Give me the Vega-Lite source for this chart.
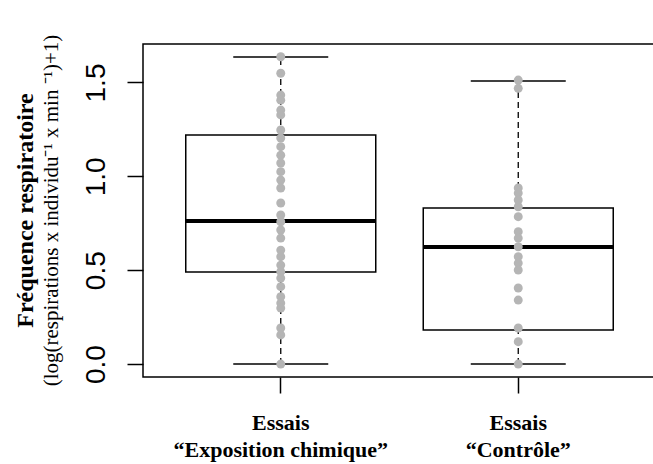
{
  "$schema": "https://vega.github.io/schema/vega-lite/v6.json",
  "autosize": {"type": "none"},
  "padding": {"left": 143, "top": 44, "right": 0, "bottom": 87},
  "width": 513,
  "height": 333,
  "background": "white",
  "config": {
    "view": {"stroke": "black", "strokeWidth": 1.5},
    "axis": {"grid": false, "domain": false, "tickColor": "black", "tickWidth": 1.5, "tickSize": 16, "labelColor": "black", "titleColor": "black"}
  },
  "title": {
    "text": "Fréquence respiratoire",
    "subtitle": "(log(respirations x individu⁻¹ x min ⁻¹)+1)",
    "orient": "left",
    "anchor": "middle",
    "font": "Liberation Serif",
    "fontSize": 24,
    "fontWeight": "bold",
    "color": "black",
    "subtitleFont": "Liberation Serif",
    "subtitleFontSize": 21,
    "subtitleFontWeight": "normal",
    "subtitleColor": "black",
    "subtitlePadding": 3,
    "offset": 20
  },
  "datasets": {
    "stats": [
      {"group": "Exposition chimique", "lower": 0, "q1": 0.49, "median": 0.762, "q3": 1.22, "upper": 1.636},
      {"group": "Contrôle", "lower": 0, "q1": 0.181, "median": 0.623, "q3": 0.831, "upper": 1.508}
    ],
    "points": [
      {"group": "Exposition chimique", "value": 1.637},
      {"group": "Exposition chimique", "value": 1.549},
      {"group": "Exposition chimique", "value": 1.433},
      {"group": "Exposition chimique", "value": 1.406},
      {"group": "Exposition chimique", "value": 1.353},
      {"group": "Exposition chimique", "value": 1.327},
      {"group": "Exposition chimique", "value": 1.247},
      {"group": "Exposition chimique", "value": 1.204},
      {"group": "Exposition chimique", "value": 1.158},
      {"group": "Exposition chimique", "value": 1.113},
      {"group": "Exposition chimique", "value": 1.071},
      {"group": "Exposition chimique", "value": 1.025},
      {"group": "Exposition chimique", "value": 0.98},
      {"group": "Exposition chimique", "value": 0.938},
      {"group": "Exposition chimique", "value": 0.858},
      {"group": "Exposition chimique", "value": 0.794},
      {"group": "Exposition chimique", "value": 0.758},
      {"group": "Exposition chimique", "value": 0.714},
      {"group": "Exposition chimique", "value": 0.671},
      {"group": "Exposition chimique", "value": 0.607},
      {"group": "Exposition chimique", "value": 0.572},
      {"group": "Exposition chimique", "value": 0.527},
      {"group": "Exposition chimique", "value": 0.492},
      {"group": "Exposition chimique", "value": 0.458},
      {"group": "Exposition chimique", "value": 0.412},
      {"group": "Exposition chimique", "value": 0.359},
      {"group": "Exposition chimique", "value": 0.325},
      {"group": "Exposition chimique", "value": 0.298},
      {"group": "Exposition chimique", "value": 0.192},
      {"group": "Exposition chimique", "value": 0.155},
      {"group": "Exposition chimique", "value": 0},
      {"group": "Contrôle", "value": 1.513},
      {"group": "Contrôle", "value": 1.469},
      {"group": "Contrôle", "value": 0.938},
      {"group": "Contrôle", "value": 0.911},
      {"group": "Contrôle", "value": 0.874},
      {"group": "Contrôle", "value": 0.838},
      {"group": "Contrôle", "value": 0.785},
      {"group": "Contrôle", "value": 0.705},
      {"group": "Contrôle", "value": 0.671},
      {"group": "Contrôle", "value": 0.625},
      {"group": "Contrôle", "value": 0.572},
      {"group": "Contrôle", "value": 0.538},
      {"group": "Contrôle", "value": 0.501},
      {"group": "Contrôle", "value": 0.405},
      {"group": "Contrôle", "value": 0.341},
      {"group": "Contrôle", "value": 0.192},
      {"group": "Contrôle", "value": 0.119},
      {"group": "Contrôle", "value": 0}
    ]
  },
  "encoding": {
    "x": {
      "field": "group",
      "type": "nominal",
      "scale": {"domain": ["Exposition chimique", "Contrôle"], "paddingInner": 0.2, "paddingOuter": 0.18},
      "axis": {
        "title": null,
        "labelAngle": 0,
        "bandPosition": 0.5,
        "labelFont": "Liberation Serif",
        "labelFontWeight": "bold",
        "labelFontSize": 22,
        "labelLineHeight": 27,
        "labelPadding": 19,
        "labelLimit": 0,
        "labelExpr": "['Essais', '“' + datum.label + '”']"
      }
    }
  },
  "layer": [
    {
      "data": {"name": "stats"},
      "layer": [
        {
          "mark": {"type": "rule", "color": "black", "strokeWidth": 1.3, "strokeDash": [6, 4]},
          "encoding": {"y": {"field": "q3", "type": "quantitative"}, "y2": {"field": "upper"}}
        },
        {
          "mark": {"type": "rule", "color": "black", "strokeWidth": 1.3, "strokeDash": [6, 4]},
          "encoding": {"y": {"field": "lower", "type": "quantitative"}, "y2": {"field": "q1"}}
        },
        {
          "mark": {"type": "bar", "fill": "white", "stroke": "black", "strokeWidth": 1.5},
          "encoding": {
            "y": {
              "field": "q1",
              "type": "quantitative",
              "scale": {"domain": [-0.069, 1.705], "nice": false, "zero": false},
              "axis": {
                "values": [0, 0.5, 1, 1.5],
                "format": ".1f",
                "title": null,
                "labelFont": "Liberation Sans",
                "labelFontSize": 28,
                "labelAngle": 270,
                "labelAlign": "center",
                "labelBaseline": "bottom",
                "labelPadding": 17
              }
            },
            "y2": {"field": "q3"}
          }
        },
        {
          "mark": {"type": "tick", "color": "black", "opacity": 1, "size": 95, "thickness": 1.5, "orient": "horizontal"},
          "encoding": {"y": {"field": "upper", "type": "quantitative"}}
        },
        {
          "mark": {"type": "tick", "color": "black", "opacity": 1, "size": 95, "thickness": 1.5, "orient": "horizontal"},
          "encoding": {"y": {"field": "lower", "type": "quantitative"}}
        },
        {
          "mark": {"type": "tick", "color": "black", "opacity": 1, "size": 190, "thickness": 4, "orient": "horizontal"},
          "encoding": {"y": {"field": "median", "type": "quantitative"}}
        }
      ]
    },
    {
      "data": {"name": "points"},
      "mark": {"type": "circle", "color": "#b5b5b5", "opacity": 1, "size": 80},
      "encoding": {"y": {"field": "value", "type": "quantitative"}}
    }
  ]
}
